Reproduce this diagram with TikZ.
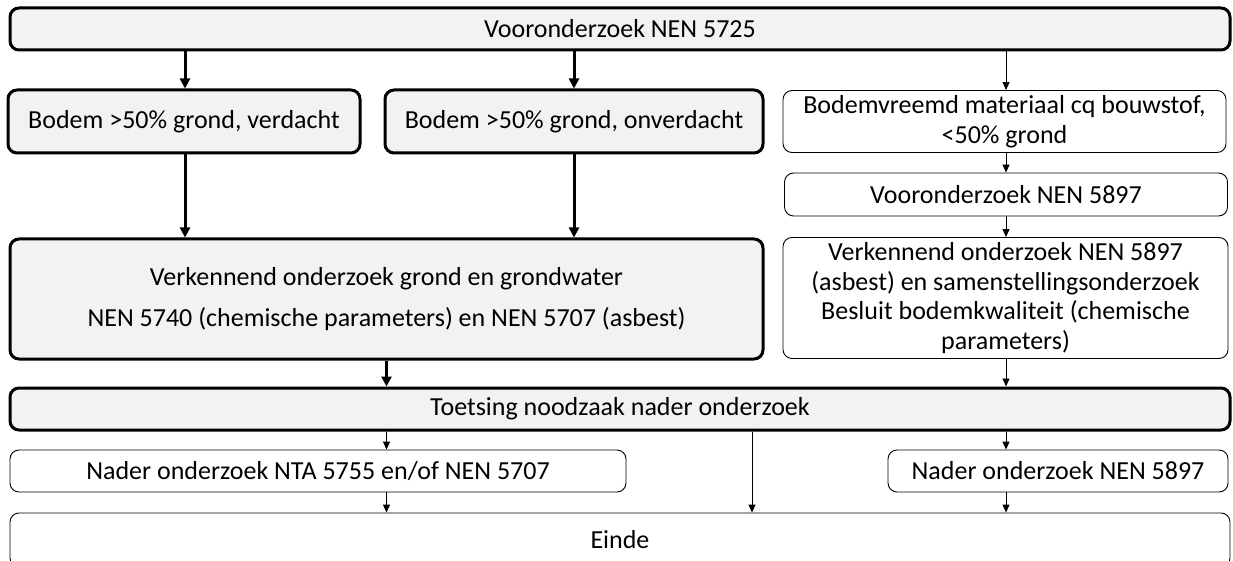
\documentclass[tikz,border=0pt]{standalone}
\usepackage{fontspec}
\setmainfont{Carlito}
\usetikzlibrary{arrows.meta}
\definecolor{boxgray}{RGB}{242,242,242}

\begin{document}
\begin{tikzpicture}[x=1pt, y=-1pt,
  every node/.style={font=\fontsize{26}{29.5}\selectfont, inner sep=0pt, align=center},
  heavybox/.style={draw, line width=3pt, fill=boxgray, rounded corners=9pt},
  lightbox/.style={draw, line width=0.9pt, fill=white, rounded corners=9pt},
  heavyarrow/.style={line width=3pt, -{Triangle[length=10pt,width=10pt]}},
  lightarrow/.style={line width=0.9pt, -{Triangle[length=8pt,width=7pt]}}]
  \useasboundingbox (0,0) rectangle (1233,561);

  % upper part
  \node[heavybox, minimum width=1220, minimum height=42] (top) at (620,29) {Vooronderzoek NEN 5725};
  \node[heavybox, minimum width=352, minimum height=63] (verd) at (184,121.5) {Bodem >50\% grond, verdacht};
  \node[heavybox, minimum width=378, minimum height=63] (onverd) at (574,121.5) {Bodem >50\% grond, onverdacht};
  \node[lightbox, minimum width=443, minimum height=62] (vreemd) at (1004.5,121.5) {Bodemvreemd materiaal cq bouwstof,\\<50\% grond};
  \node[lightbox, minimum width=443, minimum height=43] (vo5897) at (1006,194.5) {Vooronderzoek NEN 5897};

  % verkennend onderzoek
  \node[heavybox, minimum width=753, minimum height=120] (verkL) at (386.5,299) {Verkennend onderzoek grond en grondwater\\[12pt] NEN 5740 (chemische parameters) en NEN 5707 (asbest)};
  \node[lightbox, minimum width=445, minimum height=121] (verkR) at (1005.5,298) {Verkennend onderzoek NEN 5897\\(asbest) en samenstellingsonderzoek\\Besluit bodemkwaliteit (chemische\\parameters)};

  % toetsing en nader onderzoek
  \node[heavybox, minimum width=1220, minimum height=42] (toets) at (620,409) {Toetsing noodzaak nader onderzoek};
  \node[lightbox, minimum width=616, minimum height=42] (nta) at (318,471) {Nader onderzoek NTA 5755 en/of NEN 5707};
  \node[lightbox, minimum width=340, minimum height=42] (nader5897) at (1058,471) {Nader onderzoek NEN 5897};
  \node[lightbox, minimum width=1220, minimum height=54] (einde) at (620,540) {Einde};

  \coordinate (lcol) at (185,0);
  \coordinate (rcol) at (1006,0);
  \coordinate (mcol) at (752,0);

  \draw[heavyarrow] (top.south -| lcol) -- (verd.north -| lcol);
  \draw[heavyarrow] (top.south -| onverd) -- (onverd.north);
  \draw[lightarrow] (top.south -| rcol) -- (vreemd.north -| rcol);
  \draw[heavyarrow] (verd.south -| lcol) -- (verkL.north -| lcol);
  \draw[heavyarrow] (onverd.south) -- (verkL.north -| onverd);
  \draw[lightarrow] (vreemd.south -| rcol) -- (vo5897.north -| rcol);
  \draw[lightarrow] (vo5897.south -| rcol) -- (verkR.north -| rcol);
  \draw[heavyarrow] (verkL.south) -- (toets.north -| verkL);
  \draw[lightarrow] (verkR.south -| rcol) -- (toets.north -| rcol);
  \draw[lightarrow] (toets.south -| verkL) -- (nta.north -| verkL);
  \draw[lightarrow] (toets.south -| mcol) -- (einde.north -| mcol);
  \draw[lightarrow] (toets.south -| rcol) -- (nader5897.north -| rcol);
  \draw[lightarrow] (nta.south -| verkL) -- (einde.north -| verkL);
  \draw[lightarrow] (nader5897.south -| rcol) -- (einde.north -| rcol);
\end{tikzpicture}
\end{document}
